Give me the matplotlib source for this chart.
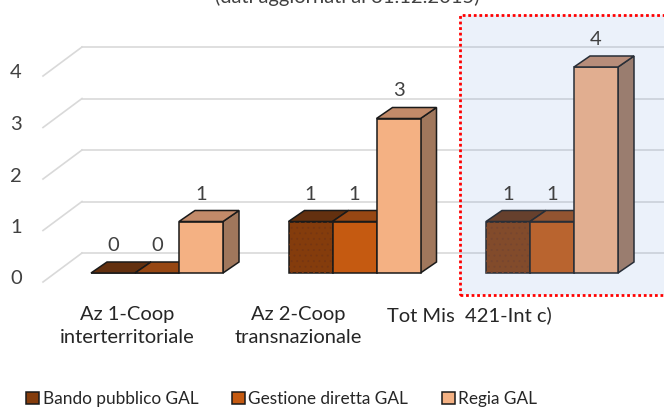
import matplotlib
matplotlib.use("Agg")
import matplotlib.pyplot as plt
from matplotlib.patches import Polygon, Rectangle, Patch

plt.rcParams['font.family'] = ['Lato', 'DejaVu Sans']
plt.rcParams['hatch.linewidth'] = 0.6

# data
categories = ["Az 1-Coop\ninterterritoriale", "Az 2-Coop\ntransnazionale", "Tot Mis  421-Int c)"]
series = ["Bando pubblico GAL", "Gestione diretta GAL", "Regia GAL"]
bando = [0, 1, 1]
gestione = [0, 1, 1]
regia = [1, 3, 4]
title = "(dati aggiornati al 31.12.2015)"

values = [bando, gestione, regia]
front_col = ["#843C0C", "#C55A11", "#F4B183"]
top_col = ["#63300F", "#974713", "#C28A69"]
side_col = ["#55280B", "#86400F", "#A0775C"]
text_col = "#404040"

# pixel helpers (figure is 664x408 px)
GX0, GSTEP = 157.0, 197.5   # px of first group centre, px between groups
Y0, UNIT = 273.0, 51.5      # px row of value 0 (bar front), px per unit


def px2x(px):
    return (px - GX0) / GSTEP


def py2v(py):
    return (Y0 - py) / UNIT


W = 44 / GSTEP           # bar width in group units
DDX = 16 / GSTEP         # bar depth, x
DDY = 11 / UNIT          # bar depth, y

fig = plt.figure(figsize=(6.64, 4.08), dpi=100)
ax = fig.add_axes([0, 0, 1, 1])
ax.set_xlim(px2x(0), px2x(664))
ax.set_ylim(py2v(408), py2v(0))
ax.axis('off')

# walls / gridlines
grid_c = "#D9D9D9"
for v in range(5):
    yf = v + py2v(282)
    yb = v + py2v(253)
    ax.plot([px2x(43), px2x(82)], [yf, yb], color=grid_c, lw=1.2, zorder=1)
    ax.plot([px2x(82), px2x(664)], [yb, yb], color=grid_c, lw=1.2, zorder=1)
    ax.text(px2x(22), v + py2v(279), str(v), ha='right', va='center',
            fontsize=14.5, color=text_col, zorder=6)

# 3d-looking bars
for g in range(len(categories)):
    for s in range(len(series)):
        v = values[s][g]
        xc = g + (s - 1) * W
        xl, xr = xc - W / 2, xc + W / 2
        z = 2 + s
        ax.bar(xc, v, width=W, color=front_col[s], edgecolor="#1A1A1A", lw=1.1, zorder=z)
        if s == 0 and v > 0:
            ax.bar(xc, v, width=W, color='none', edgecolor="#763612", lw=0,
                   hatch='...', zorder=z)
        top = [(xl, v), (xr, v), (xr + DDX, v + DDY), (xl + DDX, v + DDY)]
        ax.add_patch(Polygon(top, closed=True, facecolor=top_col[s],
                             edgecolor="#1A1A1A", lw=1.1, zorder=z))
        side = [(xr, 0), (xr + DDX, DDY), (xr + DDX, v + DDY), (xr, v)]
        ax.add_patch(Polygon(side, closed=True, facecolor=side_col[s],
                             edgecolor="#1A1A1A", lw=1.1, zorder=z - 0.5))
        ax.text(xc, v + DDY + 8 / UNIT, str(v), ha='center', va='bottom',
                fontsize=14.5, color=text_col, zorder=7)

# category labels at the floor front (perspective shifted)
for g, lab in enumerate(categories):
    cpx = GX0 + GSTEP * g
    lx = px2x(0.868 * cpx - 9.3)
    ax.text(lx, py2v(306), lab, ha='center', va='top', fontsize=14.5,
            color="#262626", linespacing=1.45, zorder=7)

# highlight box on the total
bx0, bx1, by0, by1 = px2x(460), px2x(700), py2v(295), py2v(15)
ax.add_patch(Rectangle((bx0, by0), bx1 - bx0, by1 - by0, facecolor="#7AA2DE",
                       alpha=0.15, edgecolor='none', zorder=5))
ax.add_patch(Rectangle((bx0, by0), bx1 - bx0, by1 - by0, fill=False,
                       edgecolor="#FF0000", lw=2, linestyle=(0, (1, 1)), zorder=8))

fig.text(347 / 664, 1 - 3 / 408, title, ha='center', va='baseline',
         fontsize=14.5, color=text_col)

handles = [Patch(facecolor=c, edgecolor="#1A1A1A", lw=1.1) for c in front_col]
fig.legend(handles, series, loc='center left', bbox_to_anchor=(26 / 664, 1 - 399 / 408),
           ncol=3, frameon=False, prop={'size': 12.4}, handlelength=0.76, handleheight=0.76,
           handletextpad=0.2, columnspacing=1.95, borderaxespad=0, borderpad=0,
           labelcolor="#262626")

fig.savefig("out.png", dpi=100)
